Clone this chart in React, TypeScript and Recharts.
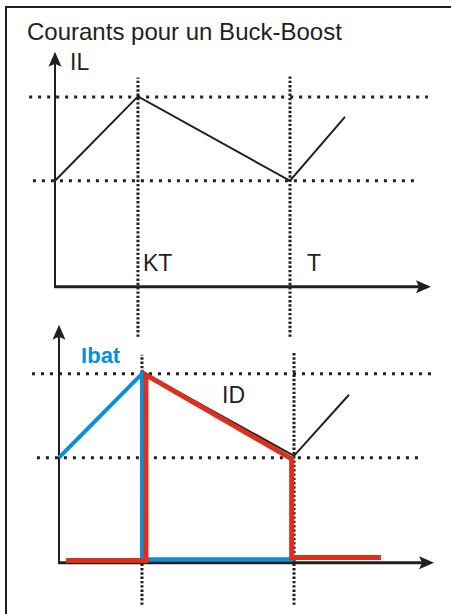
import { LineChart, Line, XAxis, YAxis, ReferenceLine, ReferenceDot } from 'recharts';

const INK = '#231f20';
const BLUE = '#0a8fdc';
const RED = '#dd2e1e';
const FONT = '"Liberation Sans", Arial, sans-serif';

// scale of both panels
const PX = 235; // px per time unit (T = 1)
const PY = 23.5; // px per current unit
const X_DOMAIN = [-0.2, 1.65];
const Y_DOMAIN = [-2.5, 10.5];

// top panel : IL
const ilTime = [0, 0.353, 1.0, 1.234];
const ilValue = [4.51, 8.1, 4.51, 7.23];

// bottom panel : IL (thin), Ibat, ID
const ilRefTime = [0.353, 1.0, 1.234];
const ilRefValue = [8.12, 4.55, 7.15];
const ibatTime = [0, 0.353, 0.353, 1.0];
const ibatValue = [4.47, 8.04, 0.15, 0.15];
const idTime = [0.03, 0.37, 0.37, 0.99, 0.99, 1.37];
const idValue = [0.1, 0.1, 8.0, 4.42, 0.22, 0.22];

// dotted guides
const topHGuides = [{ y: 8.07, from: -0.11, to: 1.587 }, { y: 4.51, from: -0.094, to: 1.532 }];
const topVGuides = [{ x: 0.353, from: -2.13, to: 8.9 }, { x: 1.0, from: -2.13, to: 8.98 }];
const botHGuides = [{ y: 8.04, from: -0.115, to: 1.587 }, { y: 4.47, from: -0.094, to: 1.528 }];
const botVGuides = [{ x: 0.353, from: -1.79, to: 8.85 }, { x: 1.0, from: -1.79, to: 8.94 }];

// axis arrow tips [t, v]
const topAxisTip = [1.6, 10];
const botAxisTip = [1.596, 10.13];

const topLabels = [
  { text: 'IL', t: 0.064, v: 9.23, size: 23 },
  { text: 'KT', t: 0.374, v: 0.68, size: 23 },
  { text: 'T', t: 1.072, v: 0.68, size: 23 },
];
const botLabels = [
  { text: 'Ibat', t: 0.094, v: 8.51, size: 22, color: BLUE, bold: true },
  { text: 'ID', t: 0.694, v: 6.81, size: 23 },
];

const toPoints = (ts: number[], vs: number[]) => ts.map((t, i) => ({ t, v: vs[i] }));

const arrowRight = (p: any) => {
  const { cx, cy } = p;
  return <polygon points={`${cx},${cy} ${cx - 15},${cy - 6.5} ${cx - 12},${cy} ${cx - 15},${cy + 6.5}`} fill={INK} />;
};
const arrowUp = (p: any) => {
  const { cx, cy } = p;
  return <polygon points={`${cx},${cy} ${cx - 6.5},${cy + 15} ${cx},${cy + 12} ${cx + 6.5},${cy + 15}`} fill={INK} />;
};
const textShape = (lab: any) => (p: any) => (
  <text x={p.cx} y={p.cy} fontSize={lab.size} fontFamily={FONT} fontWeight={lab.bold ? 'bold' : 'normal'} fill={lab.color || INK}>
    {lab.text}
  </text>
);

interface PanelProps {
  ox: number;
  oy: number;
  tip: number[];
  hGuides: { y: number; from: number; to: number }[];
  vGuides: { x: number; from: number; to: number }[];
  labels: any[];
  series: { data: { t: number; v: number }[]; color: string; width: number }[];
}

const Panel = (props: PanelProps) => {
  const w = (X_DOMAIN[1] - X_DOMAIN[0]) * PX;
  const h = (Y_DOMAIN[1] - Y_DOMAIN[0]) * PY;
  return (
    <div style={{ position: 'absolute', left: props.ox + X_DOMAIN[0] * PX, top: props.oy - Y_DOMAIN[1] * PY }}>
      <LineChart width={w} height={h} margin={{ top: 0, right: 0, bottom: 0, left: 0 }}>
        <XAxis type="number" dataKey="t" domain={X_DOMAIN} allowDataOverflow hide />
        <YAxis type="number" dataKey="v" domain={Y_DOMAIN} allowDataOverflow hide />
        {props.hGuides.map((g, i) => (
          <ReferenceLine key={'h' + i} segment={[{ x: g.from, y: g.y }, { x: g.to, y: g.y }]} stroke={INK} strokeWidth={3} strokeDasharray="3 6" ifOverflow="visible" />
        ))}
        {props.vGuides.map((g, i) => (
          <ReferenceLine key={'v' + i} segment={[{ x: g.x, y: g.from }, { x: g.x, y: g.to }]} stroke={INK} strokeWidth={3} strokeDasharray="2.4 1.9" ifOverflow="visible" />
        ))}
        <ReferenceLine segment={[{ x: 0, y: 0 }, { x: 0, y: props.tip[1] - 12 / PY }]} stroke={INK} strokeWidth={2} ifOverflow="visible" />
        <ReferenceLine segment={[{ x: -0.004, y: 0 }, { x: props.tip[0] - 12 / PX, y: 0 }]} stroke={INK} strokeWidth={3} ifOverflow="visible" />
        <ReferenceDot x={props.tip[0]} y={0} shape={arrowRight} ifOverflow="visible" />
        <ReferenceDot x={0} y={props.tip[1]} shape={arrowUp} ifOverflow="visible" />
        {props.series.map((s, i) => (
          <Line key={'s' + i} data={s.data} dataKey="v" type="linear" stroke={s.color} strokeWidth={s.width} dot={false} activeDot={false} isAnimationActive={false} />
        ))}
        {props.labels.map((lab, i) => (
          <ReferenceDot key={'l' + i} x={lab.t} y={lab.v} shape={textShape(lab)} ifOverflow="visible" />
        ))}
      </LineChart>
    </div>
  );
};

export default function App() {
  return (
    <div style={{ position: 'absolute', left: 0, top: 0, width: 451, height: 614, overflow: 'hidden', background: '#fff' }}>
      <div style={{ position: 'absolute', left: 5, top: 6, width: 470, height: 640, borderLeft: `2px solid ${INK}`, borderTop: `2px solid ${INK}` }} />
      <svg style={{ position: 'absolute', left: 0, top: 0 }} width={451} height={50}>
        <text x={27} y={40} fontSize={24} fontFamily={FONT} fill={INK}>Courants pour un Buck-Boost</text>
      </svg>
      <Panel
        ox={55}
        oy={287}
        tip={topAxisTip}
        hGuides={topHGuides}
        vGuides={topVGuides}
        labels={topLabels}
        series={[{ data: toPoints(ilTime, ilValue), color: INK, width: 2 }]}
      />
      <Panel
        ox={59}
        oy={563}
        tip={botAxisTip}
        hGuides={botHGuides}
        vGuides={botVGuides}
        labels={botLabels}
        series={[
          { data: toPoints(ilRefTime, ilRefValue), color: INK, width: 2 },
          { data: toPoints(ibatTime, ibatValue), color: BLUE, width: 4 },
          { data: toPoints(idTime, idValue), color: RED, width: 5 },
        ]}
      />
    </div>
  );
}
